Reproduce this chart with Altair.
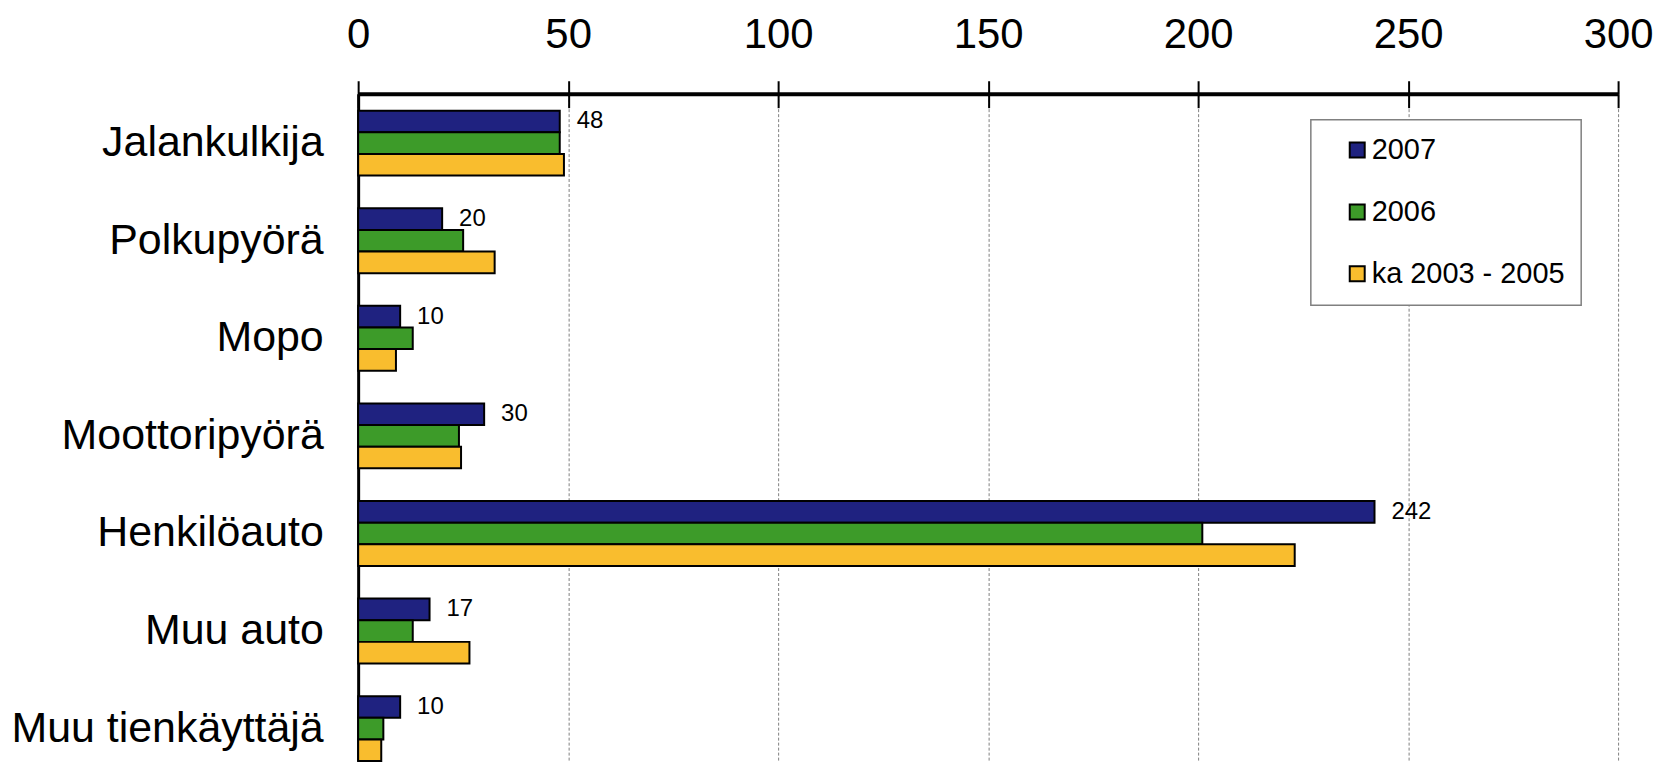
import altair as alt
import pandas as pd

categories = ["Jalankulkija", "Polkupyörä", "Mopo", "Moottoripyörä",
              "Henkilöauto", "Muu auto", "Muu tienkäyttäjä"]
series = ["2007", "2006", "ka 2003 - 2005"]
v2007 = [48, 20, 10, 30, 242, 17, 10]
v2006 = [48, 25, 13, 24, 201, 13, 6]
vka = [49, 32.5, 9, 24.5, 223, 26.5, 5.5]
colors = ["#1F2280", "#3D9B29", "#F9BD2E"]
x_ticks = [0, 50, 100, 150, 200, 250, 300]

rows = []
for s, vals in zip(series, [v2007, v2006, vka]):
    for c, v in zip(categories, vals):
        rows.append({"category": c, "series": s, "value": v})
df = pd.DataFrame(rows)

FONT = "Liberation Sans"
xscale = alt.Scale(domain=[0, 300], nice=False)
yscale = alt.Scale(domain=categories, paddingInner=0.335, paddingOuter=0.087, align=1)
yoff = alt.Scale(domain=series, paddingInner=0, paddingOuter=0)

bars = alt.Chart(df).mark_bar(stroke="black", strokeWidth=2).encode(
    x=alt.X("value:Q", scale=xscale,
            axis=alt.Axis(orient="top", values=x_ticks, title=None, labelFlush=False,
                          labelFontSize=42, labelFont=FONT, labelColor="black",
                          labelPadding=24, tickSize=13, tickColor="black", tickWidth=2,
                          domainColor="black", domainWidth=4,
                          grid=True, gridColor="#808080", gridDash=[3, 2], gridWidth=1)),
    y=alt.Y("category:N", scale=yscale, sort=categories,
            axis=alt.Axis(title=None, ticks=False, labelFontSize=43, labelFont=FONT,
                          labelColor="black", labelPadding=35, labelLimit=600,
                          domainColor="black", domainWidth=3)),
    yOffset=alt.YOffset("series:N", scale=yoff, sort=series),
    color=alt.Color("series:N", scale=alt.Scale(domain=series, range=colors),
                    legend=alt.Legend(title=None, orient="none", legendX=955, legendY=26,
                                      padding=16, strokeColor="#808080",
                                      fillColor="white", symbolType="square", symbolSize=225,
                                      symbolStrokeColor="black", symbolStrokeWidth=2,
                                      symbolOffset=16, labelFontSize=29, labelFont=FONT,
                                      labelColor="black", labelOffset=0, rowPadding=32,
                                      labelLimit=600,
                                      labelExpr="datum.label + '\u00a0\u00a0\u00a0\u00a0\u00a0\u00a0'")),
)

labels = alt.Chart(df).transform_filter(alt.datum.series == "2007").mark_text(
    align="left", baseline="middle", dx=17, fontSize=24, font=FONT, color="black"
).encode(
    x=alt.X("value:Q", scale=xscale,
            axis=alt.Axis(orient="top", values=x_ticks, labels=False, domain=False,
                          grid=False, ticks=True, tickSize=14, tickColor="black",
                          tickWidth=2, offset=-14, title=None)),
    y=alt.Y("category:N", scale=yscale, sort=categories),
    yOffset=alt.YOffset("series:N", scale=yoff, sort=series),
    text=alt.Text("value:Q", format="d"),
)

chart = alt.layer(bars, labels).resolve_axis(x="independent").properties(
    width=1263, height=669,
    autosize=alt.AutoSizeParams(type="none"),
    padding={"left": 351, "top": 85, "right": 38, "bottom": 2},
).configure_view(stroke=None).configure_legend(strokeWidth=1.5)

chart.save("out.html", embed_options={"renderer": "svg", "actions": False})
